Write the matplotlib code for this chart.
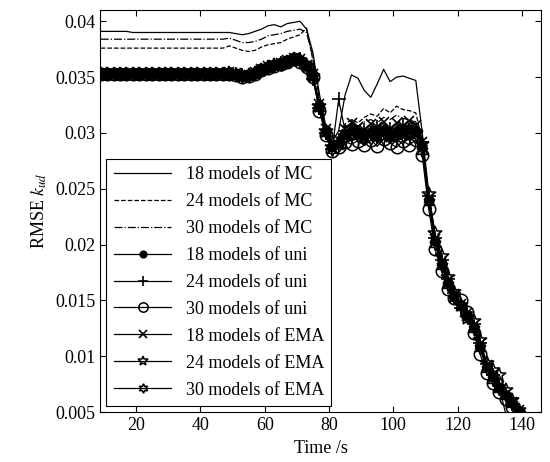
import numpy as np
import matplotlib.pyplot as plt

plt.rcParams['font.family'] = ['Liberation Serif', 'DejaVu Serif']
plt.rcParams['mathtext.fontset'] = 'stix'

# time samples (s)
t = np.arange(9, 141, 2)

# MC model sets
mc18 = [0.0391]*5 + [0.0390]*15 + [
    0.0390, 0.0389, 0.0388, 0.0389, 0.0391, 0.0393, 0.0396, 0.0397, 0.0395, 0.0398,
    0.0399, 0.0400, 0.0393, 0.0372, 0.0335, 0.0306, 0.0292, 0.0302, 0.0334, 0.0352,
    0.0349, 0.0338, 0.0332, 0.0344, 0.0357, 0.0346, 0.0350, 0.0351, 0.0349, 0.0347,
    0.0300, 0.0247, 0.0208, 0.0186, 0.0168, 0.0155, 0.0146, 0.0139, 0.0128, 0.0110,
    0.0091, 0.0080, 0.0072, 0.0048, 0.0045, 0.0045]
mc24 = [0.0376]*20 + [
    0.0378, 0.0376, 0.0374, 0.0373, 0.0374, 0.0377, 0.0379, 0.0380, 0.0381, 0.0384,
    0.0386, 0.0388, 0.0394, 0.0365, 0.0330, 0.0302, 0.0291, 0.0297, 0.0308, 0.0312,
    0.0309, 0.0314, 0.0317, 0.0315, 0.0322, 0.0318, 0.0324, 0.0321, 0.0320, 0.0318,
    0.0293, 0.0243, 0.0205, 0.0183, 0.0166, 0.0153, 0.0145, 0.0137, 0.0126, 0.0108,
    0.0090, 0.0079, 0.0071, 0.0064, 0.0057, 0.0049]
mc30 = [0.0384]*20 + [
    0.0385, 0.0383, 0.0381, 0.0381, 0.0382, 0.0384, 0.0387, 0.0388, 0.0389, 0.0391,
    0.0392, 0.0393, 0.0390, 0.0368, 0.0332, 0.0304, 0.0290, 0.0296, 0.0305, 0.0309,
    0.0306, 0.0310, 0.0312, 0.0309, 0.0314, 0.0312, 0.0316, 0.0313, 0.0312, 0.0310,
    0.0290, 0.0245, 0.0206, 0.0184, 0.0167, 0.0154, 0.0146, 0.0138, 0.0127, 0.0109,
    0.0091, 0.0080, 0.0072, 0.0065, 0.0058, 0.0050]

# uniform weighting
uni18 = [0.0353]*20 + [
    0.0355, 0.0353, 0.0351, 0.0352, 0.0354, 0.0357, 0.0359, 0.0361, 0.0362, 0.0365,
    0.0367, 0.0365, 0.0360, 0.0352, 0.0325, 0.0303, 0.0288, 0.0291, 0.0299, 0.0302,
    0.0300, 0.0297, 0.0301, 0.0299, 0.0303, 0.0298, 0.0302, 0.0300, 0.0304, 0.0301,
    0.0288, 0.0240, 0.0203, 0.0183, 0.0166, 0.0154, 0.0146, 0.0137, 0.0126, 0.0109,
    0.0090, 0.0081, 0.0072, 0.0065, 0.0058, 0.0051]
uni24 = [0.0353]*20 + [
    0.0354, 0.0353, 0.0352, 0.0351, 0.0353, 0.0356, 0.0358, 0.0360, 0.0363, 0.0364,
    0.0366, 0.0366, 0.0358, 0.0348, 0.0322, 0.0300, 0.0286, 0.0330, 0.0302, 0.0306,
    0.0298, 0.0303, 0.0299, 0.0305, 0.0300, 0.0304, 0.0298, 0.0306, 0.0301, 0.0303,
    0.0292, 0.0244, 0.0206, 0.0186, 0.0169, 0.0157, 0.0143, 0.0140, 0.0129, 0.0112,
    0.0093, 0.0083, 0.0074, 0.0066, 0.0057, 0.0050]
uni30 = [0.0353]*20 + [
    0.0353, 0.0352, 0.0350, 0.0351, 0.0353, 0.0356, 0.0358, 0.0360, 0.0362, 0.0364,
    0.0366, 0.0364, 0.0359, 0.0350, 0.0320, 0.0298, 0.0284, 0.0287, 0.0292, 0.0290,
    0.0293, 0.0289, 0.0294, 0.0288, 0.0295, 0.0291, 0.0287, 0.0293, 0.0289, 0.0294,
    0.0280, 0.0232, 0.0196, 0.0176, 0.0160, 0.0152, 0.0150, 0.0140, 0.0121, 0.0102,
    0.0085, 0.0076, 0.0068, 0.0062, 0.0055, 0.0048]

# EMA weighting
ema18 = [0.0353]*20 + [
    0.0355, 0.0354, 0.0352, 0.0352, 0.0355, 0.0357, 0.0360, 0.0361, 0.0363, 0.0365,
    0.0367, 0.0366, 0.0361, 0.0353, 0.0326, 0.0304, 0.0289, 0.0294, 0.0304, 0.0309,
    0.0305, 0.0303, 0.0308, 0.0305, 0.0310, 0.0304, 0.0309, 0.0306, 0.0311, 0.0307,
    0.0292, 0.0242, 0.0205, 0.0185, 0.0168, 0.0156, 0.0147, 0.0139, 0.0128, 0.0111,
    0.0092, 0.0082, 0.0073, 0.0066, 0.0059, 0.0052]
ema24 = [0.0353]*20 + [
    0.0354, 0.0352, 0.0351, 0.0352, 0.0354, 0.0356, 0.0359, 0.0361, 0.0362, 0.0364,
    0.0366, 0.0365, 0.0360, 0.0351, 0.0324, 0.0302, 0.0287, 0.0290, 0.0297, 0.0301,
    0.0299, 0.0296, 0.0300, 0.0298, 0.0302, 0.0297, 0.0301, 0.0299, 0.0303, 0.0300,
    0.0290, 0.0245, 0.0210, 0.0190, 0.0171, 0.0158, 0.0146, 0.0134, 0.0132, 0.0115,
    0.0094, 0.0088, 0.0083, 0.0070, 0.0061, 0.0052]
ema30 = [0.0353]*20 + [
    0.0353, 0.0352, 0.0350, 0.0351, 0.0353, 0.0356, 0.0358, 0.0360, 0.0361, 0.0364,
    0.0366, 0.0364, 0.0359, 0.0350, 0.0322, 0.0300, 0.0285, 0.0289, 0.0296, 0.0299,
    0.0297, 0.0295, 0.0299, 0.0296, 0.0300, 0.0296, 0.0299, 0.0297, 0.0301, 0.0298,
    0.0284, 0.0238, 0.0201, 0.0181, 0.0164, 0.0152, 0.0144, 0.0135, 0.0124, 0.0107,
    0.0089, 0.0079, 0.0071, 0.0064, 0.0057, 0.0050]

fig = plt.figure(figsize=(5.5, 4.62), dpi=100)
ax = fig.add_axes([0.182, 0.108, 0.802, 0.870])

lw = 0.9
ax.plot(t, mc18, 'k-', lw=lw, label='18 models of MC')
ax.plot(t, mc24, 'k--', lw=lw, label='24 models of MC')
ax.plot(t, mc30, 'k-.', lw=lw, label='30 models of MC')
ax.plot(t, uni18, 'k-', marker='.', ms=13, lw=lw, label='18 models of uni')
ax.plot(t, uni24, 'k-', marker='+', ms=10, mew=1.2, lw=lw, label='24 models of uni')
ax.plot(t, uni30, 'k-', marker='o', ms=9, mfc='none', mew=1.1, lw=lw, label='30 models of uni')
ax.plot(t, ema18, 'k-', marker='x', ms=7, mew=1.2, lw=lw, label='18 models of EMA')
ax.plot(t, ema24, 'k-', marker='*', ms=10, mfc='none', mew=1.1, lw=lw, label='24 models of EMA')
ax.plot(t, ema30, 'k-', marker=(6, 1, 0), ms=9, mfc='none', mew=1.1, lw=lw, label='30 models of EMA')

ax.set_xlim(8.8, 146)
ax.set_ylim(0.005, 0.041)
ax.set_xticks([20, 40, 60, 80, 100, 120, 140])
ax.set_yticks([0.005, 0.01, 0.015, 0.02, 0.025, 0.03, 0.035, 0.04])
ax.set_yticklabels(['0.005', '0.01', '0.015', '0.02', '0.025', '0.03', '0.035', '0.04'])
ax.tick_params(direction='in', top=True, right=True, labelsize=13, length=4)
ax.set_xlabel('Time /s', fontsize=13)
ax.set_ylabel('RMSE $k_{ud}$', fontsize=13)

leg = ax.legend(loc='lower left', fontsize=13, fancybox=False, edgecolor='k',
                handlelength=3.2, labelspacing=0.55, borderaxespad=0.35,
                framealpha=1, markerscale=0.75)
leg.get_frame().set_linewidth(0.8)

fig.savefig('out.png', dpi=100)
